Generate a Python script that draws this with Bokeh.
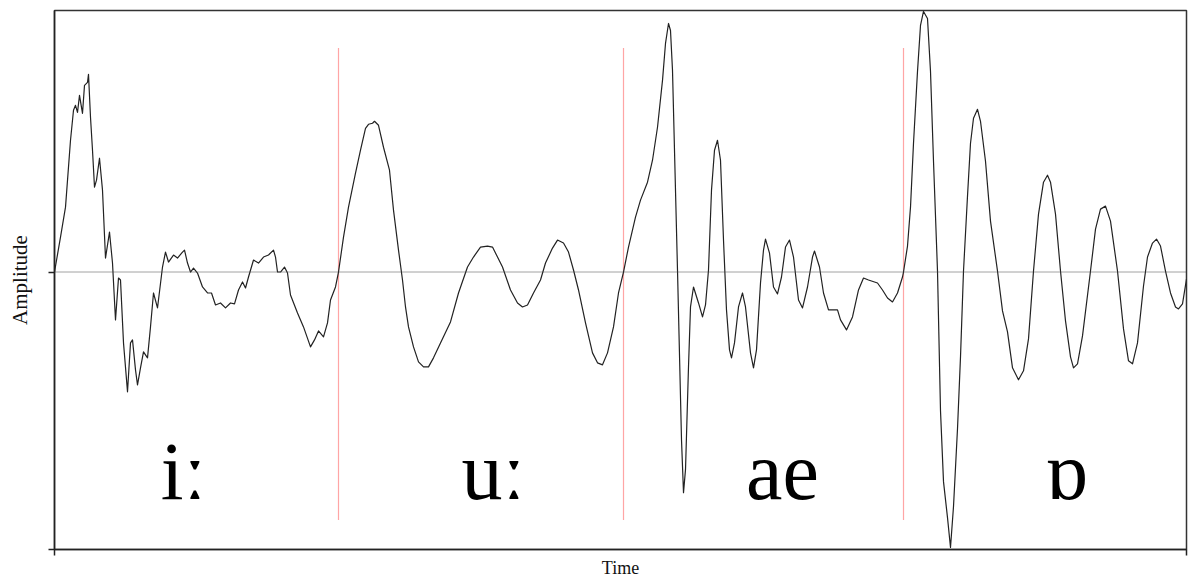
from bokeh.plotting import figure
from bokeh.models import Range1d, FixedTicker, Span, Label, CustomJSTickFormatter
from bokeh.embed import file_html
from bokeh.resources import INLINE

# Waveform samples per vowel: time (samples) and amplitude (raw units)
iy_t = [0, 6, 11, 16, 19, 21, 23, 25, 28, 30, 33, 34, 36, 38, 40, 42, 45, 48, 51, 55, 58, 61, 64, 66,
        69, 73, 76, 78, 81, 83, 86, 89, 93, 96, 99, 103, 108, 111, 114, 119, 123, 128, 130, 133, 136,
        139, 143, 148, 153, 157, 161, 166, 171, 176, 180, 184, 188, 191, 194, 199, 204, 209, 214, 219,
        221, 223, 226, 230, 233, 236, 243, 249, 256, 260, 264, 269, 273, 276, 281, 284]
iy_a = [0, 35, 65, 132, 162, 167, 160, 177, 159, 187, 190, 198, 155, 122, 85, 92, 114, 82, 14, 40, 9,
        -48, -6, -8, -71, -120, -71, -68, -98, -113, -96, -80, -86, -55, -21, -36, 5, 20, 10, 17, 14,
        20, 22, 9, 0, 4, -1, -15, -21, -21, -33, -31, -36, -31, -32, -18, -10, -16, -5, 12, 9, 15, 17,
        22, 15, 0, 0, 5, -1, -23, -41, -55, -75, -68, -59, -65, -51, -28, -15, 0]

uw_t = [289, 294, 301, 306, 311, 314, 318, 320, 324, 329, 335, 339, 344, 348, 351, 354, 359, 364, 369,
        374, 379, 386, 396, 404, 413, 419, 426, 433, 438, 443, 448, 456, 463, 468, 473, 479, 486, 491,
        498, 503, 509, 514, 519, 524, 531, 538, 543, 548, 553, 559, 564, 569]
uw_a = [35, 65, 99, 122, 144, 148, 149, 151, 147, 125, 102, 62, 22, -8, -35, -55, -75, -90, -95, -95,
        -86, -71, -50, -21, 5, 15, 25, 26, 25, 15, 5, -18, -31, -35, -33, -21, -8, 9, 24, 32, 29, 20,
        2, -18, -51, -81, -91, -93, -81, -55, -21, 0]

ae_t = [574, 581, 586, 593, 598, 603, 608, 611, 614, 616, 618, 623, 627, 629, 631, 634, 636, 639, 644,
        648, 651, 654, 657, 660, 663, 666, 669, 672, 675, 677, 680, 684, 688, 691, 696, 699, 702, 706,
        709, 711, 715, 719, 723, 727, 731, 735, 739, 744, 748, 753, 758, 760, 765, 769, 774, 783, 786,
        792, 798, 804, 809, 814, 823, 828, 833, 838, 843, 848, 849]
ae_a = [25, 55, 72, 90, 112, 145, 192, 229, 249, 242, 202, 2, -168, -221, -198, -95, -35, -15, -31,
        -45, -33, 2, 82, 122, 132, 112, 32, -38, -78, -86, -71, -35, -21, -35, -81, -96, -78, -11, 22,
        33, 19, -15, -22, -5, 25, 32, 15, -28, -36, -15, 15, 21, 5, -21, -38, -38, -48, -58, -45, -18,
        -6, -8, -11, -18, -26, -30, -21, -5, 0]

oh_t = [853, 856, 859, 863, 866, 869, 873, 876, 879, 883, 886, 889, 893, 896, 899, 903, 906, 909, 913,
        916, 919, 923, 926, 931, 936, 943, 948, 953, 958, 964, 969, 974, 979, 984, 989, 993, 996, 1001,
        1006, 1011, 1016, 1019, 1023, 1028, 1036, 1041, 1046, 1051, 1056, 1063, 1069, 1074, 1078, 1083,
        1089, 1093, 1098, 1102, 1106, 1111, 1116, 1121, 1124, 1128, 1132]
oh_a = [26, 65, 129, 201, 247, 261, 254, 201, 111, 1, -139, -210, -246, -276, -235, -157, -85, 1, 76,
        129, 154, 163, 151, 111, 51, 1, -39, -60, -96, -108, -99, -67, 1, 58, 90, 97, 90, 58, 1, -49,
        -85, -96, -92, -64, 1, 43, 63, 66, 51, 1, -57, -89, -92, -71, -14, 15, 29, 33, 26, 1, -21, -35,
        -37, -32, -7]

# Segment boundaries between vowels (samples)
boundaries = [284, 569, 849]

# Vowel labels and their centres (samples)
vowels = ["iː", "uː", "ae", "ɒ"]
vowel_t = [129, 439, 728, 1012]
vowel_a = [-200, -200, -200, -200]

t_all = iy_t + uw_t + ae_t + oh_t
a_all = iy_a + uw_a + ae_a + oh_a

SERIF = "Liberation Serif"

p = figure(width=1188, height=580, output_backend="svg", toolbar_location=None,
           x_range=Range1d(0, 1132), y_range=Range1d(-278, 262),
           min_border_left=54, min_border_right=2, min_border_top=10, min_border_bottom=30)
p.background_fill_color = "white"
p.border_fill_color = "white"
p.grid.visible = False
p.outline_line_color = "#333333"
p.outline_line_width = 1.5

blank = CustomJSTickFormatter(code="return ''")
for ax in (p.xaxis[0], p.yaxis[0]):
    ax.formatter = blank
    ax.major_label_text_font_size = "0px"
    ax.major_label_standoff = 0
    ax.major_tick_in = 0
    ax.major_tick_out = 6
    ax.minor_tick_in = 0
    ax.minor_tick_out = 0
    ax.axis_line_color = "#222222"
    ax.axis_line_width = 1.5
    ax.major_tick_line_color = "#222222"
    ax.major_tick_line_width = 1.5
    ax.axis_label_text_font = SERIF
    ax.axis_label_text_font_style = "normal"
    ax.axis_label_text_color = "#111111"

p.xaxis.ticker = FixedTicker(ticks=[0, 1132])
p.yaxis.ticker = FixedTicker(ticks=[-278, 0])
p.xaxis.axis_label = "Time"
p.yaxis.axis_label = "Amplitude"
p.xaxis.axis_label_text_font_size = "18px"
p.yaxis.axis_label_text_font_size = "21px"
p.xaxis.axis_label_standoff = 2
p.yaxis.axis_label_standoff = 17

# Zero amplitude reference line
p.add_layout(Span(location=0, dimension="width", line_color="#444444",
                  line_width=1, line_dash="1 1"))

# Dotted red boundaries between vowels
p.segment(x0=boundaries, x1=boundaries, y0=[224] * 3, y1=[-248] * 3,
          line_color="#ff4d4d", line_width=1.2, line_dash="1 1")

# The waveform
p.line(t_all, a_all, line_color="#222222", line_width=1.2, line_join="round")

# Vowel symbols
for sym, tx, ay in zip(vowels, vowel_t, vowel_a):
    p.add_layout(Label(x=tx, y=ay, text=sym, text_font=SERIF, text_font_size="82px",
                       text_align="center", text_baseline="middle", text_color="#000000"))

open("out.html", "w").write(file_html(p, INLINE))
